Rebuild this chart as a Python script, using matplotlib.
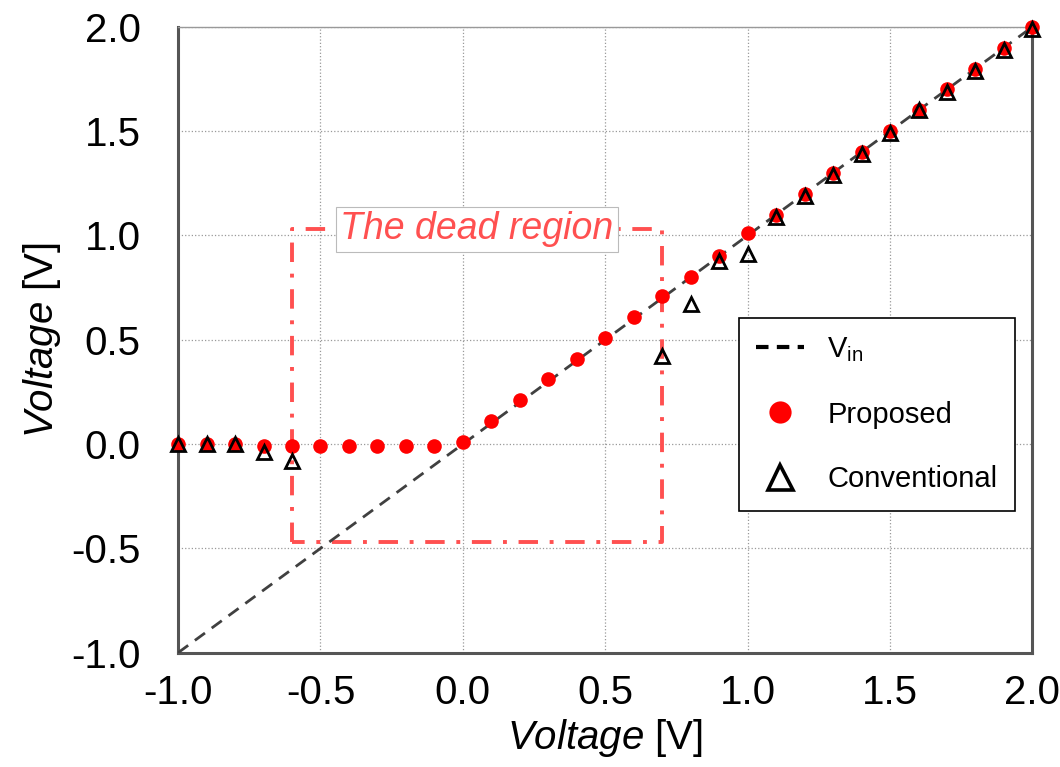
import matplotlib

matplotlib.use("Agg")
import matplotlib.pyplot as plt
import numpy as np
from matplotlib.lines import Line2D

plt.rcParams["font.family"] = ["Liberation Sans", "DejaVu Sans"]
plt.rcParams["axes.unicode_minus"] = False
plt.rcParams["mathtext.fontset"] = "custom"
plt.rcParams["mathtext.rm"] = "Liberation Sans"
plt.rcParams["mathtext.it"] = "Liberation Sans:italic"

# input voltage sweep
v_in = np.round(np.arange(-1.0, 2.01, 0.1), 1)

proposed = [0.00, 0.00, 0.00, -0.01, -0.01, -0.01, -0.01, -0.01, -0.01, -0.01,
            0.01, 0.11, 0.21, 0.31, 0.41, 0.51, 0.61, 0.71, 0.80, 0.90,
            1.01, 1.10, 1.20, 1.30, 1.40, 1.50, 1.60, 1.70, 1.80, 1.90, 2.00]

conv_x = [-1.0, -0.9, -0.8, -0.7, -0.6, 0.7, 0.8, 0.9, 1.0,
          1.1, 1.2, 1.3, 1.4, 1.5, 1.6, 1.7, 1.8, 1.9, 2.0]
conventional = [0.00, 0.00, 0.00, -0.04, -0.08, 0.42, 0.67, 0.88, 0.91,
                1.09, 1.19, 1.29, 1.39, 1.49, 1.60, 1.69, 1.79, 1.89, 1.99]

dead_x = [-0.6, 0.7]
dead_y = [-0.47, 1.03]

fig = plt.figure(figsize=(10.6, 7.67), dpi=100)
ax = fig.add_axes([0.168, 0.149, 0.806, 0.816])

ax.plot([-1.0, 2.0], [-1.0, 2.0], color="#404040", lw=2, linestyle=(0, (4.5, 3)), zorder=3)
ax.plot(v_in, proposed, "o", color="#FF0000", ms=10.5, mec="none",
        zorder=4, clip_on=False)
ax.plot(conv_x, conventional, "^", mfc="none", mec="black", mew=2.0, ms=10.5,
        zorder=5, clip_on=False)

# dead region box
bx = [dead_x[0], dead_x[0], dead_x[1], dead_x[1], dead_x[0]]
by = [dead_y[0], dead_y[1], dead_y[1], dead_y[0], dead_y[0]]
ax.plot(bx, by, color="#FF5050", lw=2.8, linestyle=(0, (5, 3, 1, 3)), zorder=2)
ax.text(0.05, 1.03, "The dead region", color="#FF5050", style="italic",
        fontsize=27, ha="center", va="center", zorder=6,
        bbox=dict(facecolor="white", edgecolor="#BBBBBB", lw=0.8,
                  boxstyle="square,pad=0.12"))

ax.set_xlim(-1.0, 2.0)
ax.set_ylim(-1.0, 2.0)
ticks = np.arange(-1.0, 2.01, 0.5)
ax.set_xticks(ticks)
ax.set_yticks(ticks)
ax.set_xticklabels([f"{t:.1f}" for t in ticks])
ax.set_yticklabels([f"{t:.1f}" for t in ticks])
ax.tick_params(axis="both", labelsize=29, length=0)
ax.tick_params(axis="x", pad=15)
ax.tick_params(axis="y", pad=27)
ax.grid(True, color="#999999", linestyle=":", lw=0.9)

for side in ["left", "bottom", "right"]:
    ax.spines[side].set_color("#555555")
    ax.spines[side].set_linewidth(2.2)
ax.spines["top"].set_color("#999999")
ax.spines["top"].set_linewidth(1.0)

ax.set_xlabel(r"$\mathit{Voltage}$ [V]", fontsize=29, labelpad=4)
ax.set_ylabel(r"$\mathit{Voltage}$ [V]", fontsize=29, labelpad=6)

# legend uses bigger symbols than the plot
handles = [
    Line2D([], [], color="black", lw=3, linestyle=(0, (3, 2))),
    Line2D([], [], marker="o", ls="none", color="#FF0000", mec="none", ms=16),
    Line2D([], [], marker="^", ls="none", mfc="none", mec="black", mew=2.6, ms=18),
]
labels = [r"V$_{\mathregular{in}}$", "Proposed", "Conventional"]
leg = ax.legend(handles, labels, loc="upper left", bbox_to_anchor=(0.656, 0.535),
                fontsize=21, frameon=True, fancybox=False, edgecolor="black",
                framealpha=1, labelspacing=1.25, handlelength=1.65, borderpad=0.6,
                handletextpad=0.8, borderaxespad=0)
leg.get_frame().set_linewidth(1.2)

fig.savefig("out.png", dpi=100)
